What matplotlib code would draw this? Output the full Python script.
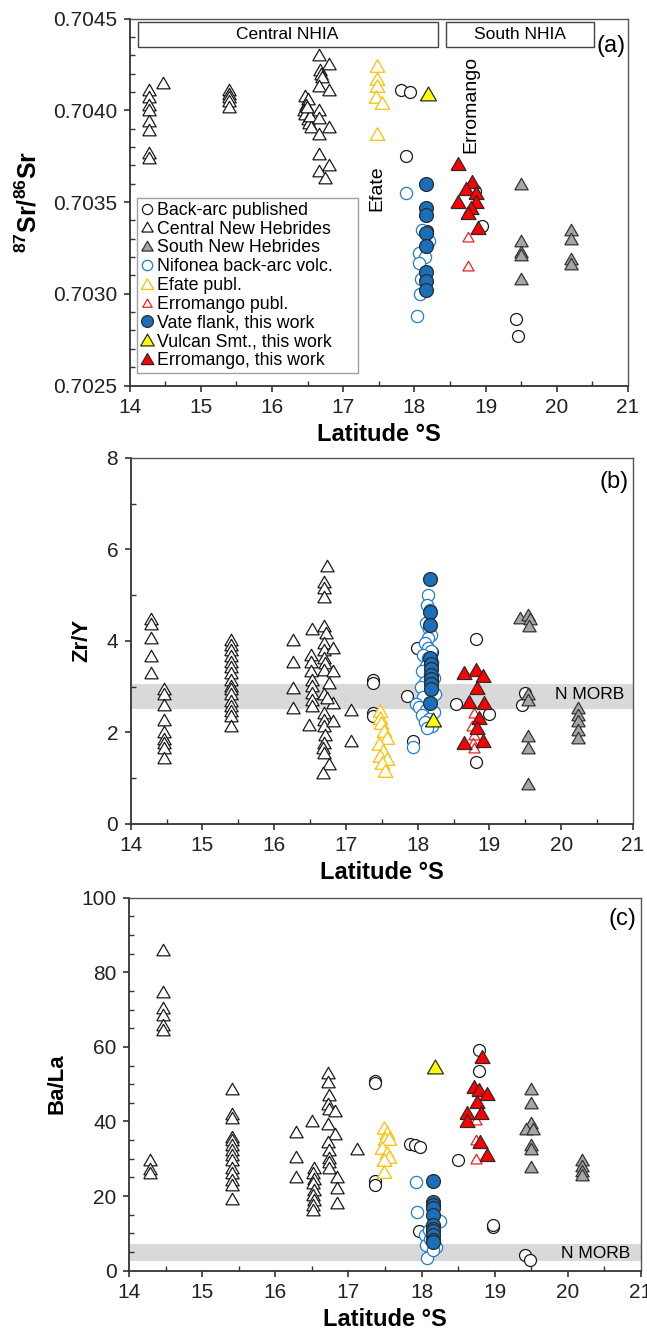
import numpy as np
import matplotlib
matplotlib.use('Agg')
import matplotlib.pyplot as plt
from matplotlib.patches import Rectangle
from matplotlib.lines import Line2D
from matplotlib.ticker import MultipleLocator, FormatStrFormatter

plt.rcParams['font.family'] = ['Liberation Sans', 'DejaVu Sans']
plt.rcParams['mathtext.fontset'] = 'custom'
plt.rcParams['mathtext.rm'] = 'Liberation Sans'
plt.rcParams['mathtext.bf'] = 'Liberation Sans:bold'

# ---------------- panel (a): 87Sr/86Sr ----------------
a_backarc_x = [17.81, 17.94, 17.88, 18.95, 18.18, 18.85, 19.42, 19.46]
a_backarc_y = [0.70411, 0.70410, 0.70375, 0.70337, 0.70334, 0.70356, 0.70286, 0.70277]
a_central_x = [14.28, 14.28, 14.28, 14.28, 14.28, 14.28, 14.28, 14.28, 14.47,
               15.40, 15.40, 15.40, 15.40, 15.40,
               16.47, 16.50, 16.48, 16.45, 16.47, 16.50, 16.52, 16.55, 16.53, 16.49,
               16.66, 16.68, 16.69, 16.70, 16.66, 16.66, 16.66, 16.66, 16.66, 16.66,
               16.80, 16.80, 16.80, 16.80, 16.75]
a_central_y = [0.70411, 0.70407, 0.70403, 0.70400, 0.70394, 0.70389, 0.70377, 0.70374, 0.70415,
               0.70411, 0.70409, 0.70407, 0.70405, 0.70402,
               0.70408, 0.70406, 0.70403, 0.70400, 0.70398, 0.70395, 0.70393, 0.70391, 0.70397, 0.70402,
               0.70430, 0.70422, 0.70420, 0.70418, 0.70413, 0.70400, 0.70396, 0.70387, 0.70376, 0.70367,
               0.70425, 0.70411, 0.70391, 0.70370, 0.70363]
a_south_x = [19.50, 19.50, 19.50, 19.50, 19.50, 20.20, 20.20, 20.20, 20.20]
a_south_y = [0.70360, 0.70329, 0.70323, 0.70321, 0.70308, 0.70335, 0.70330, 0.70319, 0.70316]
a_nifonea_x = [17.88, 18.10, 18.20, 18.07, 18.15, 18.07, 18.09, 18.08, 18.04]
a_nifonea_y = [0.70355, 0.70335, 0.70329, 0.70322, 0.70320, 0.70317, 0.70308, 0.70300, 0.70288]
a_efate_x = [17.47, 17.47, 17.47, 17.46, 17.54, 17.47]
a_efate_y = [0.70424, 0.70417, 0.70413, 0.70407, 0.70404, 0.70387]
a_erropub_x = [18.75, 18.75]
a_erropub_y = [0.70331, 0.70315]
a_vate_x = [18.16, 18.16, 18.16, 18.16, 18.16, 18.16, 18.16, 18.16]
a_vate_y = [0.70360, 0.70347, 0.70343, 0.70333, 0.70326, 0.70312, 0.70307, 0.70302]
a_vulcan_x = [18.19]
a_vulcan_y = [0.70409]
a_erro_x = [18.61, 18.81, 18.72, 18.86, 18.61, 18.87, 18.80, 18.75, 18.90]
a_erro_y = [0.70371, 0.70361, 0.70357, 0.70355, 0.70350, 0.70350, 0.70347, 0.70344, 0.70336]

# ---------------- panel (b): Zr/Y ----------------
b_backarc_x = [17.38, 17.38, 17.38, 17.38, 17.85, 17.99, 17.93, 18.53, 18.81, 18.81,
               18.99, 19.45, 19.50, 18.20, 18.15]
b_backarc_y = [3.15, 3.08, 2.43, 2.35, 2.79, 3.85, 1.81, 2.63, 4.04, 1.35,
               2.41, 2.61, 2.86, 3.75, 2.90]
b_central_x = [14.29, 14.29, 14.29, 14.29, 14.29,
               14.46, 14.46, 14.46, 14.46, 14.46, 14.46, 14.46, 14.46, 14.46,
               15.40, 15.40, 15.40, 15.40, 15.40, 15.40, 15.40, 15.40, 15.40, 15.40,
               15.40, 15.40, 15.40, 15.40, 15.40, 15.40,
               16.26, 16.26, 16.26, 16.26, 16.48, 16.53, 16.52, 16.52, 16.52,
               16.53, 16.53, 16.53, 16.53, 16.53,
               16.73, 16.70, 16.69, 16.69, 16.69, 16.72, 16.69, 16.70, 16.69,
               16.82, 16.71, 16.69, 16.82, 16.76, 16.82, 16.69, 16.73,
               16.70, 16.69, 16.69, 16.71, 16.69, 16.68, 16.69, 16.76, 16.68,
               16.82, 17.07, 17.07]
b_central_y = [4.47, 4.36, 4.07, 3.68, 3.31,
               2.94, 2.83, 2.59, 2.28, 2.00, 1.86, 1.77, 1.66, 1.44,
               4.03, 3.92, 3.81, 3.68, 3.55, 3.44, 3.30, 3.15, 3.02, 2.94,
               2.83, 2.68, 2.57, 2.46, 2.35, 2.15,
               4.01, 3.55, 2.97, 2.54, 2.17, 4.25, 3.70, 3.55, 3.34,
               3.15, 3.02, 2.86, 2.72, 2.57,
               5.63, 5.29, 5.16, 4.97, 4.32, 4.17, 3.96, 3.81, 3.63,
               3.85, 3.52, 3.37, 3.34, 3.07, 2.64, 2.83, 2.75,
               2.43, 2.28, 2.13, 1.95, 1.77, 1.66, 1.55, 1.31, 1.11,
               2.24, 2.50, 1.81]
b_south_x = [19.43, 19.54, 19.57, 19.55, 19.53, 19.53, 19.53, 19.53, 19.53,
             20.23, 20.23, 20.23, 20.23, 20.23]
b_south_y = [4.50, 4.57, 4.47, 4.32, 2.83, 2.72, 1.93, 1.66, 0.88,
             2.54, 2.39, 2.24, 2.06, 1.88]
b_nifonea_x = [18.15, 18.13, 18.17, 18.12, 18.16, 18.18, 18.14, 18.10, 18.14, 18.18,
               18.08, 18.15, 18.20, 18.12, 18.06, 18.17, 18.22, 18.10, 18.05, 18.19,
               18.24, 18.08, 17.97, 18.02, 18.12, 18.22, 18.06, 18.16, 18.10, 18.20,
               18.13, 17.93]
b_nifonea_y = [5.01, 4.79, 4.68, 4.39, 4.25, 4.14, 4.07, 3.95, 3.85, 3.78,
               3.70, 3.62, 3.55, 3.45, 3.35, 3.28, 3.20, 3.10, 3.00, 2.92,
               2.85, 2.78, 2.62, 2.55, 2.50, 2.45, 2.38, 2.30, 2.22, 2.15,
               2.10, 1.68]
b_efate_x = [17.48, 17.47, 17.49, 17.53, 17.57, 17.46, 17.52, 17.48, 17.57, 17.50, 17.55]
b_efate_y = [2.46, 2.32, 2.21, 2.03, 1.88, 1.75, 1.59, 1.48, 1.41, 1.33, 1.15]
b_erropub_x = [18.78, 18.76, 18.78, 18.77, 18.79]
b_erropub_y = [2.43, 2.13, 1.95, 1.77, 1.66]
b_vate_x = [18.17, 18.17, 18.17, 18.17, 18.18, 18.18, 18.18, 18.18, 18.18, 18.18, 18.17]
b_vate_y = [5.36, 4.63, 4.34, 3.62, 3.50, 3.38, 3.25, 3.17, 3.05, 2.95, 2.64]
b_vulcan_x = [18.21]
b_vulcan_y = [2.28]
b_erro_x = [18.65, 18.81, 18.91, 18.83, 18.72, 18.92, 18.85, 18.83, 18.65, 18.91]
b_erro_y = [3.31, 3.37, 3.23, 2.97, 2.66, 2.64, 2.32, 2.10, 1.77, 1.81]

# ---------------- panel (c): Ba/La ----------------
c_backarc_x = [17.37, 17.37, 17.37, 17.37, 17.84, 17.91, 17.98, 17.96, 18.50, 18.79,
               18.79, 18.98, 18.98, 19.42, 19.48]
c_backarc_y = [50.9, 50.2, 24.1, 23.0, 34.0, 33.6, 33.2, 10.6, 29.7, 59.2,
               53.4, 11.8, 12.2, 4.2, 2.9]
c_central_x = [14.29, 14.29, 14.29,
               14.47, 14.47, 14.47, 14.47, 14.47, 14.47,
               15.41, 15.41, 15.41, 15.41, 15.41, 15.41, 15.41, 15.41, 15.41, 15.41,
               15.41, 15.41, 15.41, 15.41,
               16.29, 16.29, 16.29, 16.50,
               16.53, 16.52, 16.53, 16.52, 16.53, 16.52, 16.53, 16.51, 16.52,
               16.72, 16.72, 16.74, 16.72, 16.73, 16.81, 16.72, 16.81, 16.72,
               16.74, 16.73, 16.74, 16.85, 16.85, 16.85, 16.73, 17.12]
c_central_y = [29.7, 27.2, 26.2,
               86.1, 74.8, 70.4, 68.6, 65.9, 64.6,
               48.6, 42.0, 40.8, 35.9, 35.0, 33.7, 32.3, 31.0, 29.7, 27.4,
               26.1, 24.3, 23.0, 19.1,
               37.3, 30.6, 25.2, 40.2,
               27.4, 26.1, 24.7, 23.4, 21.6, 20.3, 18.9, 17.6, 16.2,
               52.9, 50.5, 47.0, 44.7, 43.4, 42.8, 39.4, 36.6, 34.5,
               32.3, 30.1, 29.2, 25.2, 22.1, 18.1, 27.4, 32.5]
c_south_x = [19.50, 19.50, 19.50, 19.43, 19.53, 19.50, 19.50, 19.50,
             20.20, 20.20, 20.20, 20.20]
c_south_y = [48.6, 44.9, 39.5, 37.9, 37.9, 33.7, 32.5, 27.9,
             29.7, 28.1, 26.8, 25.7]
c_nifonea_x = [17.92, 17.94, 18.08, 18.25, 18.05, 18.06, 18.10, 18.20, 18.15, 18.12]
c_nifonea_y = [23.9, 15.8, 3.3, 13.4, 9.5, 7.0, 11.0, 6.3, 5.5, 8.4]
c_efate_x = [17.48, 17.53, 17.50, 17.56, 17.46, 17.53, 17.56, 17.48, 17.48]
c_efate_y = [38.2, 36.8, 35.2, 35.2, 32.8, 31.5, 30.6, 29.7, 26.5]
c_erropub_x = [18.74, 18.74, 18.74]
c_erropub_y = [40.3, 35.1, 29.9]
c_vate_x = [18.16, 18.16, 18.16, 18.16, 18.16, 18.16, 18.16, 18.16, 18.16, 18.16, 18.16]
c_vate_y = [24.0, 18.3, 17.6, 16.8, 15.0, 12.3, 11.3, 10.5, 9.6, 8.3, 7.6]
c_vulcan_x = [18.19]
c_vulcan_y = [54.7]
c_erro_x = [18.83, 18.72, 18.78, 18.89, 18.76, 18.62, 18.81, 18.62, 18.80, 18.89]
c_erro_y = [57.4, 49.2, 48.3, 47.4, 45.3, 42.4, 42.2, 40.0, 34.6, 31.0]

legend_labels = ['Back-arc published', 'Central New Hebrides', 'South New Hebrides',
                 'Nifonea back-arc volc.', 'Efate publ.', 'Erromango publ.',
                 'Vate flank, this work', 'Vulcan Smt., this work', 'Erromango, this work']

# equilateral triangle marker
tri = [(-1, -0.8), (1, -0.8), (0, 0.93), (-1, -0.8)]

# marker style per group: marker, size (pt), face, edge
styles = {
    'backarc': ('o', 8.6, 'white', '#1a1a1a'),
    'central': (tri, 9.6, 'white', '#1a1a1a'),
    'south': (tri, 9.6, '#a6a6a6', '#333333'),
    'nifonea': ('o', 8.8, 'white', '#1f7ed0'),
    'efate': (tri, 10.4, 'white', '#ffc000'),
    'erropub': (tri, 8.0, 'white', '#ff1a1a'),
    'vate': ('o', 10.0, '#1a6fba', '#2b2b2b'),
    'vulcan': (tri, 11.5, '#ffff00', '#2b2b2b'),
    'erro': (tri, 10.8, '#ff0000', '#2b2b2b'),
}
order = ['backarc', 'central', 'south', 'nifonea', 'efate', 'erropub', 'vate', 'vulcan', 'erro']


def draw(ax, data):
    for key in order:
        xs, ys = data[key]
        m, ms, fc, ec = styles[key]
        ax.scatter(xs, ys, marker=m, s=ms ** 2, facecolors=fc, edgecolors=ec,
                   linewidths=0.9, zorder=3)


def style_axes(ax):
    ax.set_xlim(14, 21)
    ax.xaxis.set_major_locator(MultipleLocator(1))
    ax.xaxis.set_minor_locator(MultipleLocator(0.5))
    ax.tick_params(which='major', direction='out', length=4, width=1.1,
                   labelsize=15, pad=5, colors='#222222')
    ax.tick_params(which='minor', direction='in', length=3.5, width=1.0, colors='#333333')
    for s in ['left', 'bottom']:
        ax.spines[s].set_linewidth(1.3)
        ax.spines[s].set_color('#333333')
    for s in ['top', 'right']:
        ax.spines[s].set_linewidth(1.0)
        ax.spines[s].set_color('#555555')
    ax.set_xlabel('Latitude °S', fontsize=17, fontweight='bold', labelpad=4)


fig = plt.figure(figsize=(6.47, 13.35), dpi=100)
ax_a = fig.add_axes([0.2002, 0.7112, 0.7705, 0.2749])
ax_b = fig.add_axes([0.2019, 0.3828, 0.7765, 0.2742])
ax_c = fig.add_axes([0.1994, 0.0482, 0.7913, 0.2794])

# panel a
draw(ax_a, {'backarc': (a_backarc_x, a_backarc_y), 'central': (a_central_x, a_central_y),
            'south': (a_south_x, a_south_y), 'nifonea': (a_nifonea_x, a_nifonea_y),
            'efate': (a_efate_x, a_efate_y), 'erropub': (a_erropub_x, a_erropub_y),
            'vate': (a_vate_x, a_vate_y), 'vulcan': (a_vulcan_x, a_vulcan_y),
            'erro': (a_erro_x, a_erro_y)})
style_axes(ax_a)
ax_a.set_ylim(0.7025, 0.7045)
ax_a.yaxis.set_major_locator(MultipleLocator(0.0005))
ax_a.yaxis.set_minor_locator(MultipleLocator(0.0001))
ax_a.yaxis.set_major_formatter(FormatStrFormatter('%.4f'))
ax_a.set_ylabel(r'$\mathbf{^{87}Sr/^{86}Sr}$', fontsize=18, labelpad=8)

# region boxes
for x0, x1, name in [(14.115, 18.325, 'Central NHIA'), (18.44, 20.52, 'South NHIA')]:
    ax_a.add_patch(Rectangle((x0, 0.704345), x1 - x0, 0.000135, facecolor='white',
                             edgecolor='#444444', lw=1.0, zorder=4))
    ax_a.text((x0 + x1) / 2, 0.7044125, name, ha='center', va='center',
              fontsize=12.5, zorder=5)
ax_a.text(0.966, 0.925, '(a)', transform=ax_a.transAxes, ha='center', va='center', fontsize=17)
ax_a.text(17.475, 0.703577, 'Efate', rotation=90, ha='center', va='center', fontsize=14)
ax_a.text(18.79, 0.704034, 'Erromango', rotation=90, ha='center', va='center', fontsize=14)

handles = []
for key in order:
    m, ms, fc, ec = styles[key]
    handles.append(Line2D([], [], linestyle='none', marker=m, markersize=ms * 0.85,
                          markerfacecolor=fc, markeredgecolor=ec, markeredgewidth=0.9))
leg = ax_a.legend(handles, legend_labels, loc='lower left',
                  bbox_to_anchor=(0.015, 0.035, 0.443, 0.4), mode='expand',
                  fontsize=12.8, frameon=True, fancybox=False, edgecolor='#888888',
                  handlelength=0.7, handletextpad=0.25, labelspacing=0.1,
                  borderpad=0.2, borderaxespad=0.0)
leg.get_frame().set_linewidth(1.0)

# panel b
ax_b.axhspan(2.51, 3.05, color='#d9d9d9', lw=0, zorder=1)
draw(ax_b, {'backarc': (b_backarc_x, b_backarc_y), 'central': (b_central_x, b_central_y),
            'south': (b_south_x, b_south_y), 'nifonea': (b_nifonea_x, b_nifonea_y),
            'efate': (b_efate_x, b_efate_y), 'erropub': (b_erropub_x, b_erropub_y),
            'vate': (b_vate_x, b_vate_y), 'vulcan': (b_vulcan_x, b_vulcan_y),
            'erro': (b_erro_x, b_erro_y)})
style_axes(ax_b)
ax_b.set_ylim(0, 8)
ax_b.yaxis.set_major_locator(MultipleLocator(2))
ax_b.yaxis.set_minor_locator(MultipleLocator(1))
ax_b.set_ylabel('Zr/Y', fontsize=16, fontweight='bold', labelpad=10)
ax_b.text(0.982, 2.82, 'N MORB', transform=ax_b.get_yaxis_transform(), ha='right',
          va='center', fontsize=12.5)
ax_b.text(0.963, 0.934, '(b)', transform=ax_b.transAxes, ha='center', va='center', fontsize=17)

# panel c
ax_c.axhspan(2.7, 7.1, color='#d9d9d9', lw=0, zorder=1)
draw(ax_c, {'backarc': (c_backarc_x, c_backarc_y), 'central': (c_central_x, c_central_y),
            'south': (c_south_x, c_south_y), 'nifonea': (c_nifonea_x, c_nifonea_y),
            'efate': (c_efate_x, c_efate_y), 'erropub': (c_erropub_x, c_erropub_y),
            'vate': (c_vate_x, c_vate_y), 'vulcan': (c_vulcan_x, c_vulcan_y),
            'erro': (c_erro_x, c_erro_y)})
style_axes(ax_c)
ax_c.set_ylim(0, 100)
ax_c.yaxis.set_major_locator(MultipleLocator(20))
ax_c.yaxis.set_minor_locator(MultipleLocator(5))
ax_c.set_ylabel('Ba/La', fontsize=16, fontweight='bold', labelpad=10)
ax_c.text(0.979, 4.6, 'N MORB', transform=ax_c.get_yaxis_transform(), ha='right',
          va='center', fontsize=12.5)
ax_c.text(0.963, 0.942, '(c)', transform=ax_c.transAxes, ha='center', va='center', fontsize=17)

fig.savefig('out.png', dpi=100)
